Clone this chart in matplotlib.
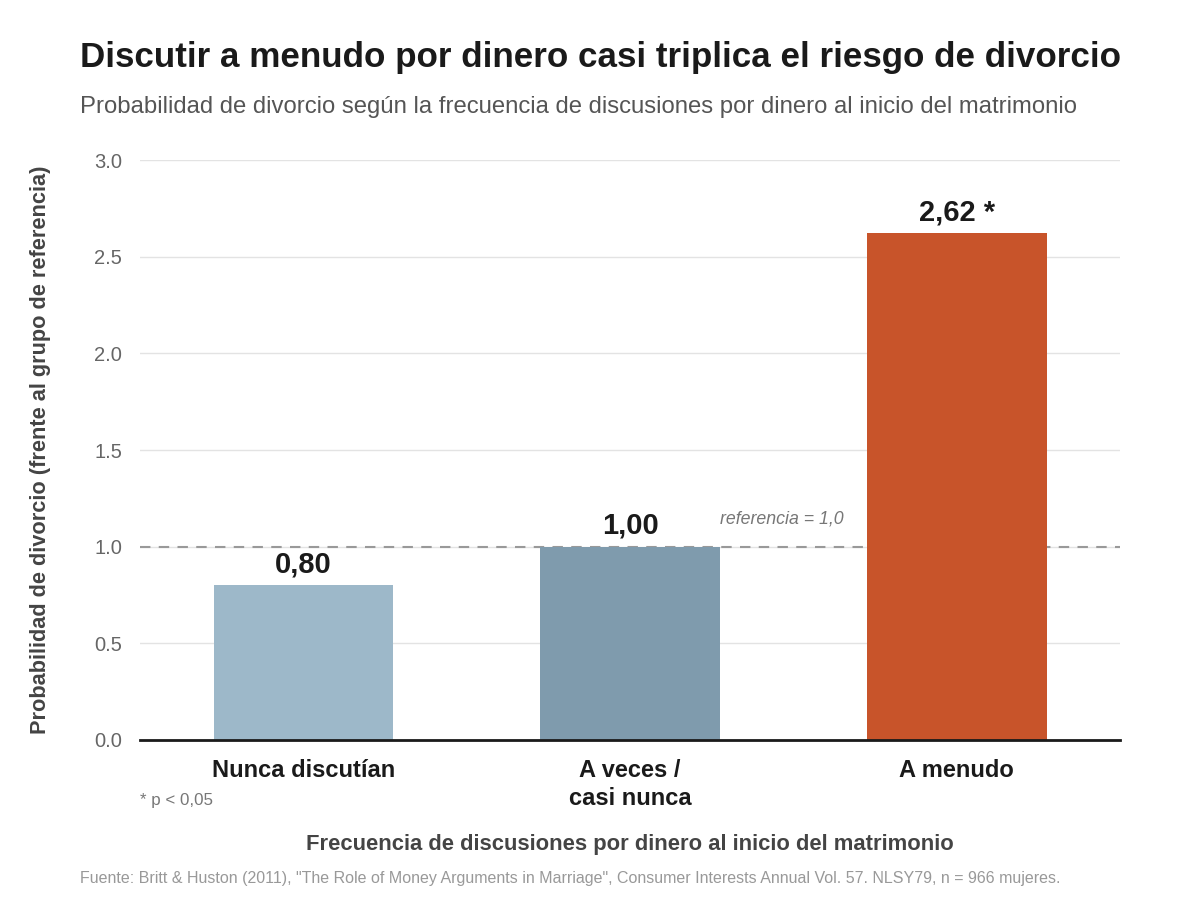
import matplotlib.pyplot as plt

plt.rcParams['font.family'] = ['Liberation Sans', 'DejaVu Sans']

categories = ['Nunca discutían', 'A veces /\ncasi nunca', 'A menudo']
values = [0.80, 1.00, 2.62]
value_labels = ['0,80', '1,00', '2,62 *']
bar_colors = ['#9db8c9', '#7f9bad', '#c8542a']
yticks = [0.0, 0.5, 1.0, 1.5, 2.0, 2.5, 3.0]

fig = plt.figure(figsize=(12, 9), dpi=100)
ax = fig.add_axes([0.1167, 0.1778, 0.8167, 0.6444])

x = list(range(len(categories)))
bars = ax.bar(x, values, width=0.55, color=bar_colors, zorder=3)

# linea de referencia
ax.axhline(1.0, color='#999999', linestyle=(0, (5, 4)), linewidth=1.5, zorder=2)
ax.text(1.275, 1.1, 'referencia = 1,0', fontsize=12.8, style='italic',
        color='#777777', ha='left', va='bottom')

for b, lab in zip(bars, value_labels):
    ax.annotate(lab, (b.get_x() + b.get_width() / 2, b.get_height()),
                xytext=(0, 5), textcoords='offset points', ha='center', va='bottom',
                fontsize=21, fontweight='bold', color='#1a1a1a')

ax.set_xlim(-0.5, 2.5)
ax.set_ylim(0, 3.0)
ax.set_yticks(yticks)
ax.set_yticklabels([f'{t:.1f}' for t in yticks])
ax.set_xticks(x)
ax.set_xticklabels(categories, fontsize=17, fontweight='bold', color='#1a1a1a',
                   linespacing=1.25)
ax.tick_params(axis='x', length=0, pad=14)
ax.tick_params(axis='y', length=0, pad=13, labelsize=14.5, labelcolor='#666666')

ax.grid(axis='y', color='#e3e3e3', linewidth=1, zorder=0)
for s in ['top', 'right', 'left']:
    ax.spines[s].set_visible(False)
ax.spines['bottom'].set_color('#1a1a1a')
ax.spines['bottom'].set_linewidth(2)
ax.spines['bottom'].set_zorder(4)

ax.set_ylabel('Probabilidad de divorcio (frente al grupo de referencia)', fontsize=15.7,
              fontweight='bold', color='#444444')
ax.yaxis.set_label_coords(-0.091, 0.5)

fig.text(0.0667, 0.9356, 'Discutir a menudo por dinero casi triplica el riesgo de divorcio',
         fontsize=25.2, fontweight='bold', color='#1a1a1a', ha='left', va='center')
fig.text(0.0667, 0.881, 'Probabilidad de divorcio según la frecuencia de discusiones por dinero al inicio del matrimonio',
         fontsize=17.2, color='#555555', ha='left', va='center')
fig.text(0.1167, 0.111, '* p < 0,05', fontsize=12.2, color='#777777', ha='left', va='center')
fig.text(0.525, 0.062, 'Frecuencia de discusiones por dinero al inicio del matrimonio',
         fontsize=15.8, fontweight='bold', color='#444444', ha='center', va='center')
fig.text(0.0667, 0.024, 'Fuente: Britt & Huston (2011), "The Role of Money Arguments in Marriage", '
         'Consumer Interests Annual Vol. 57. NLSY79, n = 966 mujeres.',
         fontsize=11.5, color='#999999', ha='left', va='center')

fig.savefig('out.png', dpi=100, facecolor='white')
